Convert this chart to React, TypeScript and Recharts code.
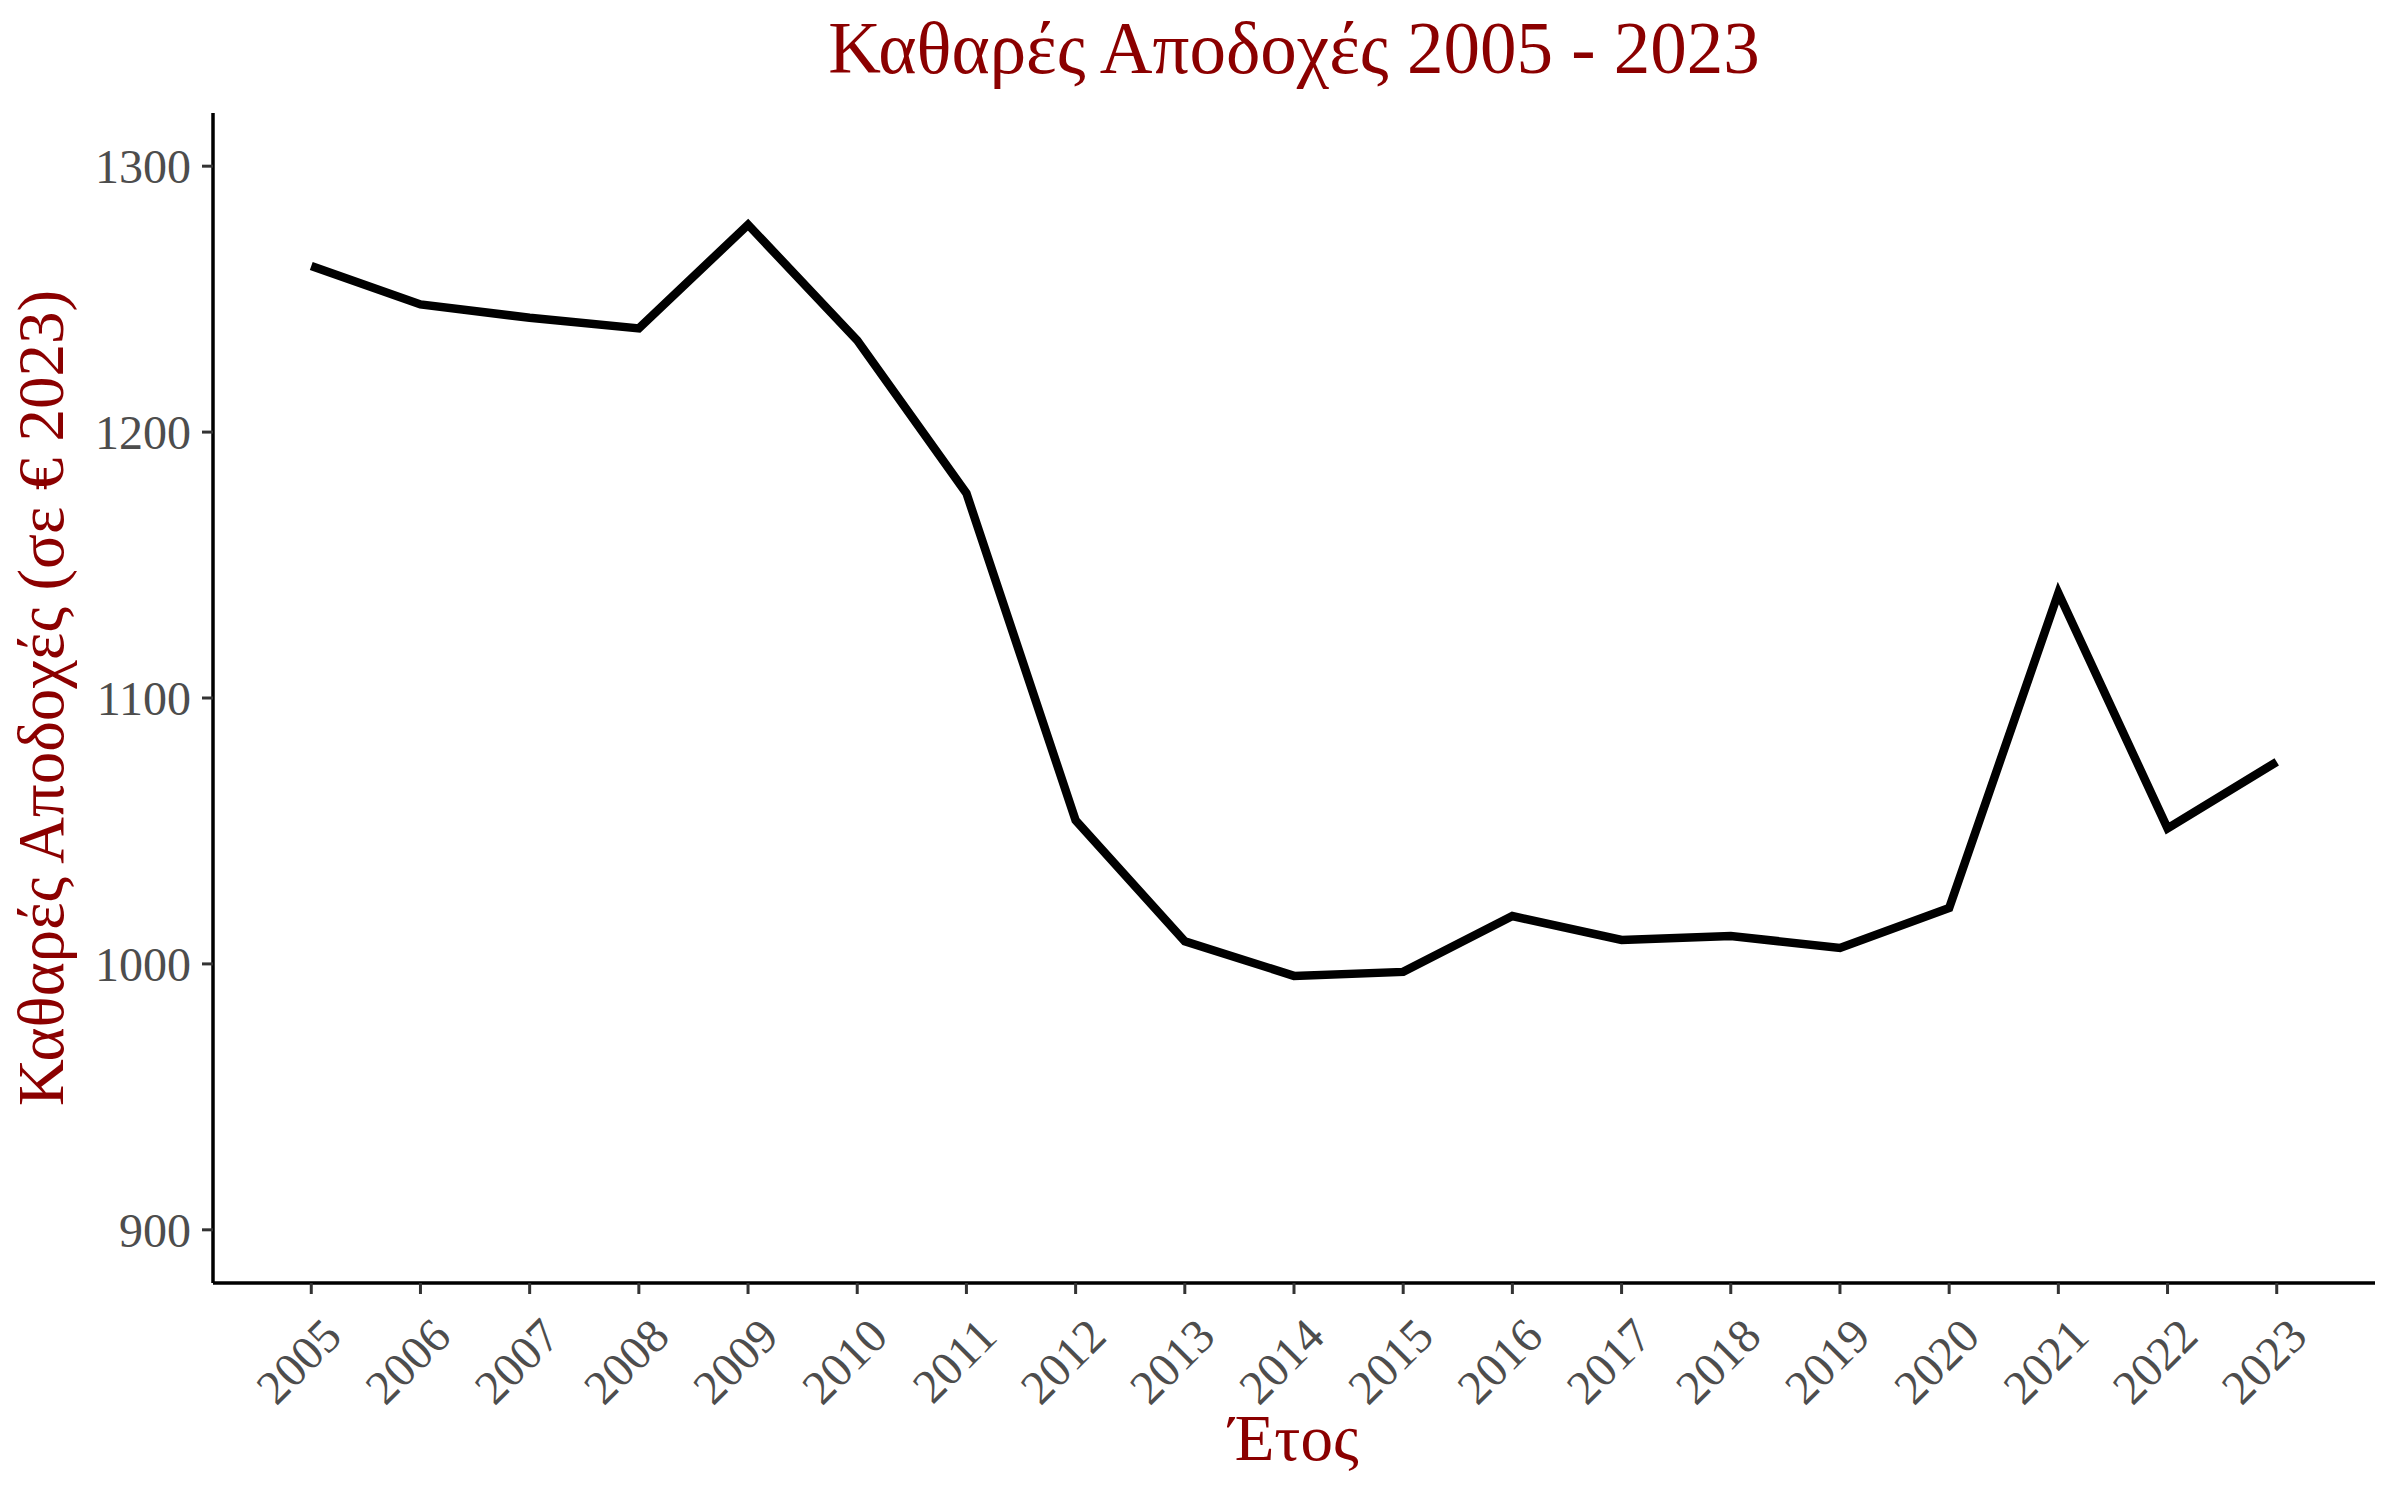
import React from 'react';
import { LineChart, Line, XAxis, YAxis } from 'recharts';

// Καθαρές αποδοχές ανά έτος (σε € 2023)
const years = [2005, 2006, 2007, 2008, 2009, 2010, 2011, 2012, 2013, 2014, 2015, 2016, 2017, 2018, 2019, 2020, 2021, 2022, 2023];
const netEarnings = [1262.5, 1248, 1243, 1239, 1278, 1234.5, 1177, 1054, 1008.5, 995.5, 997, 1018, 1009, 1010.5, 1006, 1021, 1139.5, 1051, 1076];
const yTicks = [900, 1000, 1100, 1200, 1300];

const title = 'Καθαρές Αποδοχές 2005 - 2023';
const xTitle = 'Έτος';
const yTitle = 'Καθαρές Αποδοχές (σε € 2023)';

const data = years.map((year, i) => ({ year, value: netEarnings[i] }));

const FONT = '"Liberation Serif", "DejaVu Serif", serif';
const TITLE_RED = '#8b0000';
const TICK_GREY = '#4d4d4d';
const TICK_FONT = 48;

const XTick = ({ x, y, payload }: any) => (
  <g transform={`translate(${x + 9},${y + 21})`}>
    <text
      x={0}
      y={0}
      dy="0.7em"
      textAnchor="end"
      transform="rotate(-45)"
      fill={TICK_GREY}
      fontSize={TICK_FONT}
      fontFamily={FONT}
    >
      {payload.value}
    </text>
  </g>
);

const YTick = ({ x, y, payload }: any) => (
  <text x={x} y={y} dy="0.35em" textAnchor="end" fill={TICK_GREY} fontSize={TICK_FONT} fontFamily={FONT}>
    {payload.value}
  </text>
);

const YTitle = ({ viewBox }: any) => {
  const cx = viewBox.x - 72;
  const cy = viewBox.y + viewBox.height / 2;
  return (
    <text
      x={cx}
      y={cy}
      textAnchor="middle"
      dominantBaseline="central"
      transform={`rotate(-90, ${cx}, ${cy})`}
      fill={TITLE_RED}
      fontSize={65}
      fontFamily={FONT}
    >
      {yTitle}
    </text>
  );
};

const XTitle = ({ viewBox }: any) => (
  <text
    x={viewBox.x + viewBox.width / 2}
    y={viewBox.y + 177}
    textAnchor="middle"
    fill={TITLE_RED}
    fontSize={65}
    fontFamily={FONT}
  >
    {xTitle}
  </text>
);

export default function App() {
  return (
    <div style={{ position: 'absolute', left: 0, top: 0, width: 2400, height: 1500, background: '#fff' }}>
      <div
        style={{
          position: 'absolute',
          left: 213,
          width: 2162,
          top: 7,
          textAlign: 'center',
          fontFamily: FONT,
          fontSize: 73,
          color: TITLE_RED,
          lineHeight: '84px',
        }}
      >
        {title}
      </div>
      <LineChart width={2400} height={1500} data={data} margin={{ top: 113, right: 25, bottom: 17, left: 113 }}>
        <XAxis
          dataKey="year"
          type="number"
          domain={[2004.1, 2023.9]}
          ticks={years}
          interval={0}
          allowDataOverflow
          height={200}
          tick={<XTick />}
          tickSize={11}
          tickMargin={0}
          axisLine={{ stroke: '#000', strokeWidth: 3.5 }}
          tickLine={{ stroke: '#333', strokeWidth: 3 }}
          label={<XTitle />}
        />
        <YAxis
          type="number"
          domain={[880, 1320]}
          ticks={yTicks}
          interval={0}
          allowDataOverflow
          width={100}
          tick={<YTick />}
          tickSize={11}
          tickMargin={11}
          axisLine={{ stroke: '#000', strokeWidth: 3.5 }}
          tickLine={{ stroke: '#333', strokeWidth: 3 }}
          label={<YTitle />}
        />
        <Line
          type="linear"
          dataKey="value"
          stroke="#000"
          strokeWidth={8.5}
          dot={false}
          activeDot={false}
          isAnimationActive={false}
        />
      </LineChart>
    </div>
  );
}
